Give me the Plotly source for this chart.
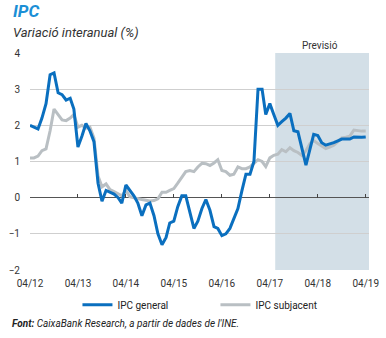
import plotly.graph_objects as go
import pandas as pd

dates = pd.date_range("2012-04-01", "2019-04-01", freq="MS")

ipc_general = [
    2.0, 1.95, 1.9, 2.2, 2.6, 3.4, 3.45, 2.9, 2.85,
    2.7, 2.75, 2.45, 1.4, 1.7, 2.05, 1.85, 1.55, 0.4, -0.1, 0.2, 0.15,
    0.1, 0.0, -0.15, 0.35, 0.2, 0.05, -0.15, -0.5, -0.2, -0.15, -0.5, -1.0,
    -1.3, -1.1, -0.7, -0.65, -0.25, 0.05, 0.05, -0.4, -0.85, -0.65, -0.3, -0.05,
    -0.35, -0.8, -0.85, -1.05, -1.0, -0.85, -0.6, -0.3, 0.2, 0.65, 0.65, 1.0,
    3.0, 3.0, 2.3, 2.6, 2.3, 2.0, 2.1, 2.2, 2.33, 1.85, 1.82, 1.35,
    0.9, 1.35, 1.75, 1.72, 1.52, 1.45, 1.48, 1.52, 1.57, 1.62, 1.62, 1.62,
    1.68, 1.67, 1.67, 1.68,
]

ipc_subjacent = [
    1.1, 1.1, 1.15, 1.3, 1.35, 1.85, 2.45, 2.3, 2.15,
    2.13, 2.2, 2.3, 1.95, 2.0, 1.92, 1.95, 1.65, 0.6, 0.3, 0.38, 0.22,
    0.17, 0.1, 0.05, 0.2, 0.03, 0.0, -0.03, -0.05, -0.07, -0.09, -0.08, -0.03,
    0.15, 0.15, 0.2, 0.25, 0.4, 0.55, 0.72, 0.75, 0.72, 0.85, 0.95, 0.94,
    0.89, 0.96, 1.05, 0.75, 0.72, 0.62, 0.65, 0.85, 0.8, 0.8, 0.85, 0.95,
    1.05, 1.0, 0.86, 1.1, 1.17, 1.2, 1.33, 1.27, 1.38, 1.3, 1.25, 1.17,
    1.3, 1.5, 1.58, 1.5, 1.42, 1.36, 1.4, 1.45, 1.55, 1.65, 1.67, 1.7,
    1.87, 1.85, 1.84, 1.84,
]

tick_dates = ["2012-04-01", "2013-04-01", "2014-04-01", "2015-04-01",
              "2016-04-01", "2017-04-01", "2018-04-01", "2019-04-01"]
tick_labels = ["04/12", "04/13", "04/14", "04/15", "04/16", "04/17", "04/18", "04/19"]
y_ticks = [-2, -1, 0, 1, 2, 3, 4]

forecast_start = "2017-05-12"
forecast_end = "2019-04-26"

FONT = "Liberation Sans Narrow, Roboto, sans-serif"
BLUE = "#0A6FBF"
GRAY = "#B9BFC3"

fig = go.Figure()
fig.add_vrect(x0=forecast_start, x1=forecast_end, fillcolor="#D3DFE7",
              line_width=0, layer="below")

fig.add_trace(go.Scatter(x=dates, y=ipc_subjacent, mode="lines", name="IPC subjacent",
                         line=dict(color=GRAY, width=3), legendrank=2))
fig.add_trace(go.Scatter(x=dates, y=ipc_general, mode="lines", name="IPC general",
                         line=dict(color=BLUE, width=3), legendrank=1))
# helper trace so the tick axis on the zero line is drawn
fig.add_trace(go.Scatter(x=dates, y=ipc_general, xaxis="x2", mode="lines",
                         line=dict(width=0, color="rgba(0,0,0,0)"),
                         showlegend=False, hoverinfo="skip"))

fig.update_layout(
    width=386, height=338,
    margin=dict(l=30, r=17, t=53, b=68),
    paper_bgcolor="white", plot_bgcolor="white",
    font=dict(family=FONT, size=10, color="#333333"),
    showlegend=True,
    legend=dict(orientation="h", x=0.14, xanchor="left", y=-0.16, yanchor="middle",
                entrywidth=93, entrywidthmode="pixels", traceorder="normal",
                font=dict(size=10, color="#222222"), bgcolor="rgba(0,0,0,0)"),
    xaxis=dict(range=["2012-04-01", forecast_end], tickvals=tick_dates, ticktext=tick_labels,
               showgrid=False, zeroline=False, showline=False, ticks="", automargin=False,
               ticklabelstandoff=6, tickfont=dict(size=10, color="#333333")),
    xaxis2=dict(overlaying="x", matches="x", anchor="free", position=1/3,
                tickvals=tick_dates, ticks="inside", ticklen=4, tickcolor="#444444",
                tickwidth=1, showticklabels=False, showgrid=False, zeroline=False,
                showline=False, automargin=False),
    yaxis=dict(range=[-2, 4], tickvals=y_ticks, showgrid=True, gridcolor="#CFCFCF",
               gridwidth=1, zeroline=True, zerolinecolor="#555555", zerolinewidth=1,
               showline=False, ticks="", ticklabelstandoff=9, automargin=False,
               tickfont=dict(size=10, color="#333333")),
)

fig.add_annotation(text="<b><i>IPC</i></b>", xref="paper", yref="paper",
                   x=-0.055, y=1.0, yshift=42, xanchor="left", yanchor="middle",
                   showarrow=False, font=dict(size=17, color="#1B8FD6", family=FONT))
fig.add_annotation(text="<i>Variació interanual (%)</i>", xref="paper", yref="paper",
                   x=-0.055, y=1.0, yshift=21, xanchor="left", yanchor="middle",
                   showarrow=False, font=dict(size=13, color="#333333", family=FONT))
fig.add_annotation(text="Previsió", xref="x", yref="paper",
                   x="2018-04-15", y=1.0, yshift=8, xanchor="center", yanchor="middle",
                   showarrow=False, font=dict(size=10, color="#333333", family=FONT))
fig.add_annotation(text="<b><i>Font:</i></b><i> CaixaBank Research, a partir de dades de l'INE.</i>",
                   xref="paper", yref="paper", x=-0.06, y=0, yshift=-53,
                   xanchor="left", yanchor="middle", showarrow=False,
                   font=dict(size=10, color="#222222", family=FONT))

fig.write_html("out.html")
